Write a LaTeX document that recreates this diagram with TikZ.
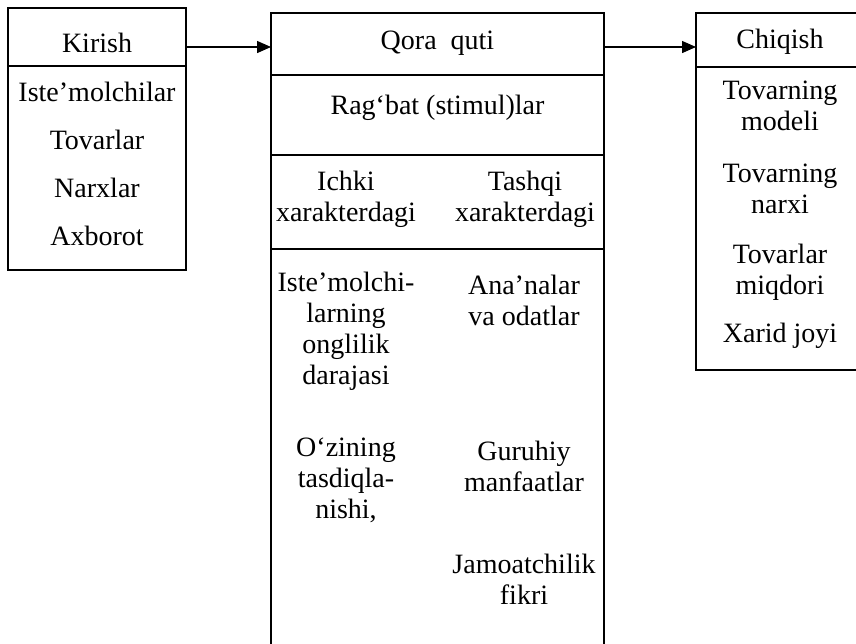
\documentclass[tikz,border=0pt]{standalone}
\usepackage{fontspec}
\setmainfont{Liberation Serif}
\usepackage{tikz}
\usetikzlibrary{arrows.meta}

\begin{document}
\begin{tikzpicture}[x=0.5pt,y=-0.5pt,
  txt/.style={font=\fontsize{14}{15.5}\selectfont, align=center, inner sep=0pt},
  frame/.style={draw=black, line width=0.8pt},
  flow/.style={line width=0.7pt, -{Triangle[length=7pt,width=6pt]}}]
\useasboundingbox (0,0) rectangle (856,643);
% Kirish
\draw[frame] (8,8) rectangle (186,270);
\draw[frame] (8,66) -- (186,66);
\node[txt] (kirish) at (97,43) {Kirish};
\node[txt] (iste) at (97,92) {Iste’molchilar};
\node[txt] (tovar) at (97,140) {Tovarlar};
\node[txt] (narx) at (97,188) {Narxlar};
\node[txt] (axbor) at (97,236) {Axborot};
% Qora quti
\draw[frame] (271,645) -- (271,13) -- (604,13) -- (604,645);
\draw[frame] (271,75) -- (604,75);
\draw[frame] (271,155) -- (604,155);
\draw[frame] (271,249) -- (604,249);
\node[txt] (qora) at (437.5,43) {Qora\ \ quti};
\node[txt] (ragbat) at (437.5,108) {Rag‘bat (stimul)lar};
\node[txt] (ichki) at (346,199) {Ichki\\xarakterdagi};
\node[txt] (tashqi) at (525,199) {Tashqi\\xarakterdagi};
\node[txt] (istemol) at (346,331) {Iste’molchi-\\larning\\onglilik\\darajasi};
\node[txt] (ozining) at (346,480) {O‘zining\\tasdiqla-\\nishi,};
\node[txt] (ananalar) at (524,300) {Ana’nalar\\va odatlar};
\node[txt] (guruhiy) at (524,466) {Guruhiy\\manfaatlar};
\node[txt] (jamoat) at (524,579) {Jamoatchilik\\fikri};
% Chiqish
\draw[frame] (858,13) -- (696,13) -- (696,370) -- (858,370);
\draw[frame] (696,67) -- (858,67);
\node[txt] (chiqish) at (780,42) {Chiqish};
\node[txt] (tmodel) at (780,106) {Tovarning\\modeli};
\node[txt] (tnarx) at (780,189) {Tovarning\\narxi};
\node[txt] (tmiqdor) at (780,272) {Tovarlar\\miqdori};
\node[txt] (xarid) at (780,336) {Xarid joyi};
% strelkalar
\coordinate (kirishR) at (186,47);
\coordinate (qoraL) at (271,47);
\coordinate (qoraR) at (604,47);
\coordinate (chiqishL) at (696,47);
\draw[flow] (kirishR) -- (qoraL);
\draw[flow] (qoraR) -- (chiqishL);
\end{tikzpicture}
\end{document}
